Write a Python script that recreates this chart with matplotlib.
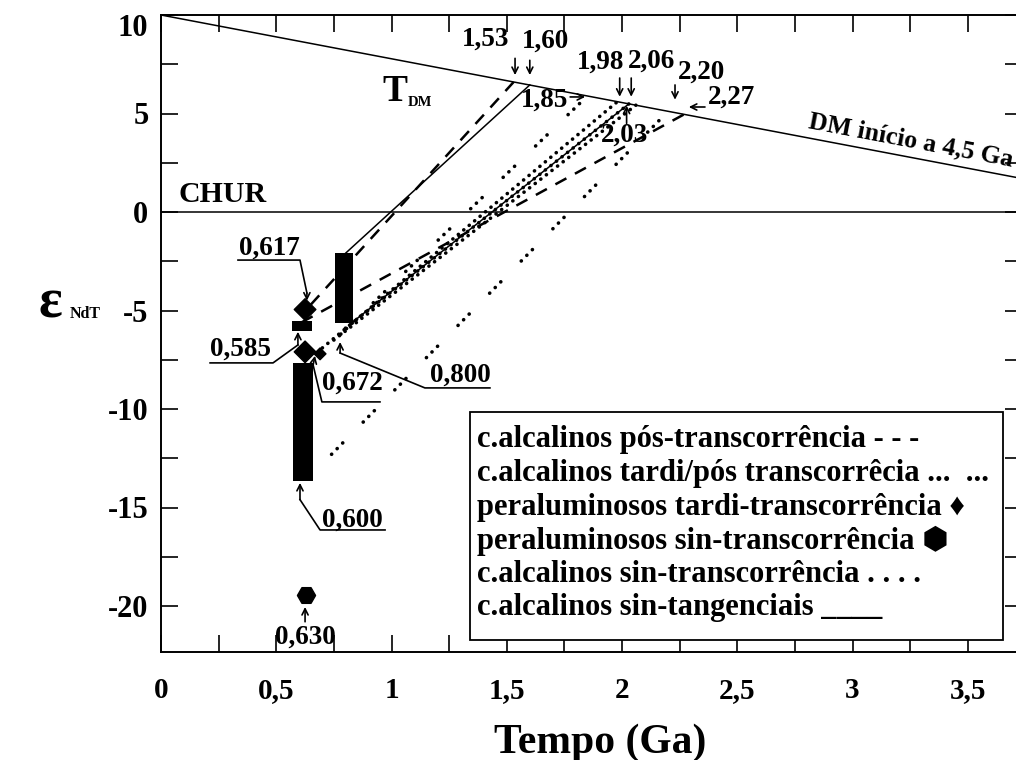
import matplotlib.pyplot as plt
from matplotlib.patches import Rectangle
from matplotlib.ticker import MultipleLocator
from matplotlib.transforms import ScaledTranslation

plt.rcParams['font.family'] = ['Liberation Serif', 'DejaVu Sans']
plt.rcParams['font.weight'] = 'bold'
plt.rcParams['lines.scale_dashes'] = False

# DM and CHUR reference lines
dm_t = [0.0, 4.5]
dm_e = [10.0, 0.0]

# model age lines: start (t0, e0) -> end on DM (t1, e1)
solid_t0 = [0.80, 0.83]
solid_e0 = [-2.1, -5.6]
solid_t1 = [1.60, 2.03]
solid_e1 = [6.45, 5.49]

dash_t0 = [0.65, 0.61]
dash_e0 = [-4.7, -5.6]
dash_t1 = [1.53, 2.27]
dash_e1 = [6.6, 4.96]

grp_t0 = [0.74, 0.78]
grp_e0 = [-12.3, -6.2]
grp_t1 = [2.20, 1.85]
grp_e1 = [5.11, 5.89]

dot_t0 = [0.70, 0.75, 0.80]
dot_e0 = [-6.9, -6.5, -5.9]
dot_t1 = [1.98, 2.06, 2.03]
dot_e1 = [5.6, 5.42, 5.49]

# black bars (ranges at crystallisation age)
bar_t = [0.611, 0.616, 0.794]
bar_w = [0.087, 0.087, 0.078]
bar_lo = [-6.04, -13.65, -5.63]
bar_hi = [-5.53, -7.66, -2.08]

diam_t = [0.625, 0.625, 0.69]
diam_e = [-4.95, -7.1, -7.2]
diam_s = [11, 11, 6]
hex_t = [0.63]
hex_e = [-19.45]

xtick_vals = [0, 0.5, 1, 1.5, 2, 2.5, 3, 3.5]
xtick_labels = ['0', '0,5', '1', '1,5', '2', '2,5', '3', '3,5']
ytick_vals = [-20, -15, -10, -5, 0, 5, 10]
ytick_labels = ['-20', '-15', '-10', '-5', '0', '5', '10']

# T_DM labels: text, text pos, arrow tail, arrow tip
tdm_txt = ['1,53', '1,60', '1,98', '2,06', '2,20', '2,27', '2,03', '1,85']
tdm_pos = [(1.406, 8.78), (1.666, 8.68), (1.905, 7.6), (2.126, 7.66),
           (2.343, 7.1), (2.473, 5.84), (2.013, 3.9), (1.666, 5.69)]
tdm_tail = [(1.536, 7.8), (1.60, 7.7), (1.99, 6.8), (2.04, 6.8),
            (2.23, 6.45), (2.36, 5.33), (2.02, 4.5), (1.775, 5.84)]
tdm_tip = [(1.536, 6.95), (1.60, 6.95), (1.99, 5.85), (2.04, 5.85),
           (2.23, 5.7), (2.29, 5.33), (2.02, 5.4), (1.84, 5.84)]

# crystallisation age labels with leader lines
age_txt = ['0,617', '0,585', '0,672', '0,800', '0,600', '0,630']
age_pos = [(0.469, -1.83), (0.347, -6.95), (0.829, -8.68), (1.30, -8.27),
           (0.829, -15.63), (0.625, -21.6)]
age_path = [
    [(0.334, -2.44), (0.603, -2.44), (0.633, -4.11)],
    [(0.213, -7.66), (0.486, -7.66), (0.594, -6.75)],
    [(0.950, -9.64), (0.698, -9.64), (0.660, -7.77)],
    [(1.427, -8.93), (1.145, -8.93), (0.777, -7.16)],
    [(0.972, -16.14), (0.690, -16.14), (0.603, -14.6)],
    [(0.625, -20.8)],
]
age_tip = [(0.633, -4.5), (0.594, -6.08), (0.668, -7.3), (0.777, -6.6),
           (0.603, -13.75), (0.625, -20.05)]

legend_lines = [
    'c.alcalinos pós-transcorrência - - -',
    'c.alcalinos tardi/pós transcorrêcia ...  ...',
    'peraluminosos tardi-transcorrência \u2666',
    'peraluminosos sin-transcorrência \u2b22',
    'c.alcalinos sin-transcorrência . . . .',
    'c.alcalinos sin-tangenciais ____',
]

W, H = 1016, 760
fig = plt.figure(figsize=(W / 100, H / 100), dpi=100)
ax = fig.add_axes([161 / W, 1 - 652 / H, (1022 - 161) / W, (652 - 15) / H])
ax.set_xlim(0, (1022 - 161) / 230.5)
ax.set_ylim((212 - 652) / 19.7, (212 - 15) / 19.7)

ax.plot(dm_t, dm_e, color='k', lw=1.1)
ax.axhline(0, color='k', lw=1.1)

for i in range(len(solid_t0)):
    ax.plot([solid_t0[i], solid_t1[i]], [solid_e0[i], solid_e1[i]],
            color='k', lw=1.1)
for i in range(len(dash_t0)):
    ax.plot([dash_t0[i], dash_t1[i]], [dash_e0[i], dash_e1[i]],
            color='k', lw=1.8, linestyle=(0, (9, 7)))
for i in range(len(grp_t0)):
    ax.plot([grp_t0[i], grp_t1[i]], [grp_e0[i], grp_e1[i]], color='k',
            lw=2.6, linestyle=(0, (0.1, 5.6, 0.1, 5.6, 0.1, 21)),
            dash_capstyle='round')
for i in range(len(dot_t0)):
    ax.plot([dot_t0[i], dot_t1[i]], [dot_e0[i], dot_e1[i]], color='k',
            lw=2.6, linestyle=(0, (0.1, 5.0)), dash_capstyle='round')

ax.bar(bar_t, [h - l for h, l in zip(bar_hi, bar_lo)], width=bar_w,
       bottom=bar_lo, color='k', zorder=3)
ax.scatter(diam_t, diam_e, marker='D', s=[v ** 2 for v in diam_s],
           color='k', zorder=4)
ax.scatter(hex_t, hex_e, marker='H', s=170, color='k', zorder=4)

arr = dict(arrowstyle='->', lw=1.2, color='k', shrinkA=0, shrinkB=0,
           mutation_scale=11)
for txt, pos, tail, tip in zip(tdm_txt, tdm_pos, tdm_tail, tdm_tip):
    ax.text(pos[0], pos[1], txt, fontsize=19.5, ha='center', va='center')
    ax.annotate('', xy=tip, xytext=tail, arrowprops=arr)

for txt, pos, path, tip in zip(age_txt, age_pos, age_path, age_tip):
    ax.text(pos[0], pos[1], txt, fontsize=19.5, ha='center', va='center')
    if len(path) > 1:
        ax.plot([p[0] for p in path], [p[1] for p in path], color='k',
                lw=1.2)
    ax.annotate('', xy=tip, xytext=path[-1], arrowprops=arr)

ax.text(1.015, 6.14, 'T', fontsize=27, ha='center', va='center')
ax.text(1.125, 5.55, 'DM', fontsize=10.5, ha='center', va='center')
ax.text(0.265, 0.91, 'CHUR', fontsize=21.5, ha='center', va='center')
ax.text(2.80, 4.05, 'DM início a 4,5 Ga', fontsize=18.5, ha='left',
        va='bottom', rotation=-65.77, rotation_mode='anchor',
        transform_rotates_text=True)

# legend box
leg_x0, leg_y0, leg_x1, leg_y1 = 470, 412, 1003, 640
ax.add_patch(Rectangle((leg_x0 / W, 1 - leg_y1 / H),
                       (leg_x1 - leg_x0) / W, (leg_y1 - leg_y0) / H,
                       transform=fig.transFigure, facecolor='white',
                       edgecolor='k', lw=1.3, zorder=5))
for k, s in enumerate(legend_lines):
    fig.text(477 / W, 1 - (440 + 33.5 * k) / H, s, fontsize=22,
             ha='left', va='center', zorder=6)

ax.set_xticks(xtick_vals)
ax.set_xticklabels(xtick_labels)
ax.set_yticks(ytick_vals)
ax.set_yticklabels(ytick_labels)
ax.xaxis.set_minor_locator(MultipleLocator(0.25))
ax.yaxis.set_minor_locator(MultipleLocator(2.5))
ax.tick_params(which='both', direction='in', top=True, right=True,
               length=12, width=1.2)
ax.tick_params(axis='x', which='major', labelsize=21, pad=18)
ax.tick_params(axis='y', which='major', labelsize=22, pad=9)
for sp in ax.spines.values():
    sp.set_linewidth(1.4)

# the top label sits a little below its tick in the original
top_lbl = ax.get_yticklabels()[-1]
top_lbl.set_transform(top_lbl.get_transform() +
                      ScaledTranslation(0, -10 / 100, fig.dpi_scale_trans))

ax.set_xlabel('Tempo (Ga)', fontsize=30, fontweight='bold', labelpad=10)
ax.xaxis.set_label_coords((600 - 161) / (1022 - 161), -0.112)
fig.text(50 / W, 1 - 303 / H, '\u03b5', fontsize=40, ha='center',
         va='center')
fig.text(85 / W, 1 - 314 / H, 'NdT', fontsize=11.5, ha='center',
         va='center')

fig.savefig('out.png', dpi=100)
